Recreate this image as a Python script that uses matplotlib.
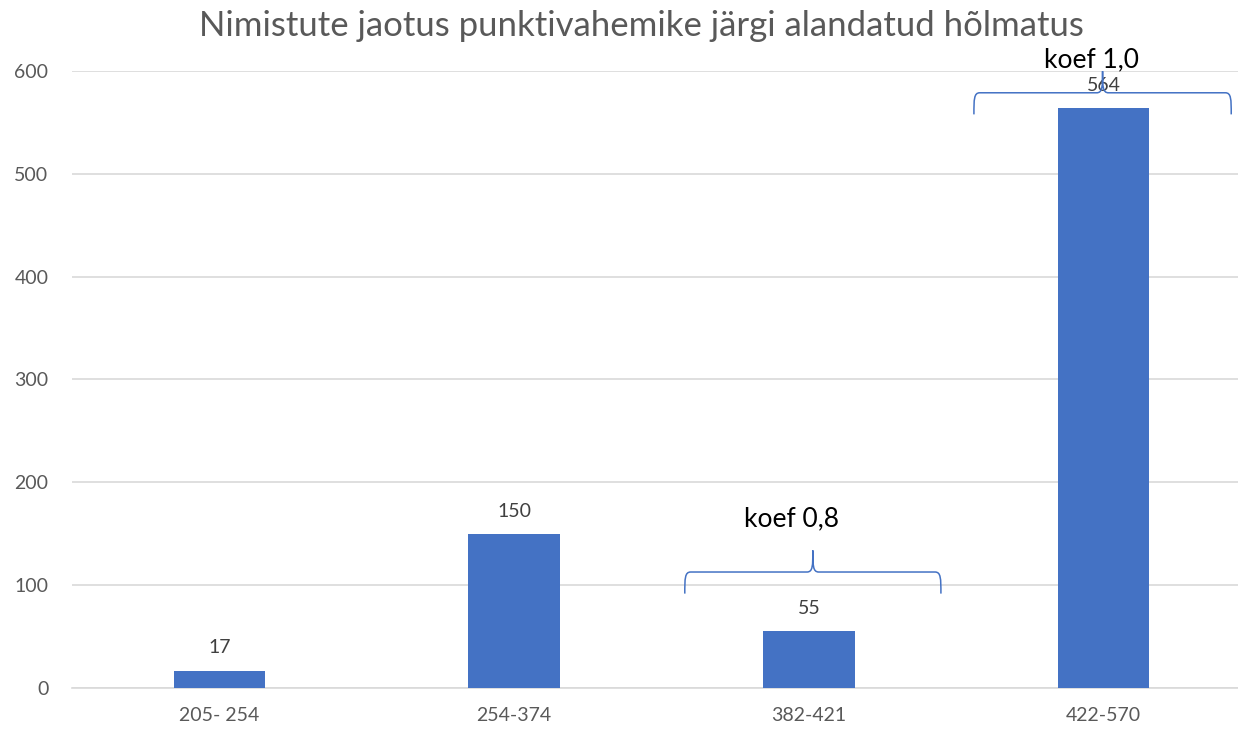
import matplotlib.pyplot as plt
from matplotlib.path import Path
from matplotlib.patches import PathPatch

categories = ["205- 254", "254-374", "382-421", "422-570"]
values = [17, 150, 55, 564]
title = "Nimistute jaotus punktivahemike järgi alandatud hõlmatus"

# brace annotations: (x_left, x_right, y_line, depth, label, label_x, label_y)
braces = [
    (1.579, 2.448, 112.8, 21, "koef 0,8", 1.94, 165),
    (2.560, 3.433, 578.8, 21, "koef 1,0", 2.96, 611),
]

plt.rcParams['font.family'] = ['Lato', 'DejaVu Sans']

fig = plt.figure(figsize=(12.38, 7.31), dpi=100)
ax = fig.add_axes([0.0582, 0.0588, 0.9418, 0.8441])

x = range(len(categories))
bars = ax.bar(x, values, width=0.31, color='#4472C4', zorder=3)

for xi, v in zip(x, values):
    ax.text(xi, v + 22, str(v), ha='center', va='center', fontsize=14, color='#404040', zorder=4)

ax.set_xlim(-0.5, 3.456)
ax.set_ylim(0, 600)
ax.set_yticks(range(0, 601, 100))
ax.set_xticks(list(x))
ax.set_xticklabels(categories)
ax.tick_params(length=0, labelsize=14, colors='#595959')
ax.tick_params(axis='x', pad=14)
ax.tick_params(axis='y', pad=17)
ax.grid(axis='y', color='#D9D9D9', linewidth=1.2, zorder=0)
for s in ['top', 'right', 'left']:
    ax.spines[s].set_visible(False)
ax.spines['bottom'].set_color('#D9D9D9')
ax.spines['bottom'].set_linewidth(1.2)

fig.text(0.518, 0.965, title, ha='center', va='center', fontsize=25, color='#595959')


def brace(x0, x1, y, d):
    xm = (x0 + x1) / 2
    r = 0.02
    verts = [
        (x0, y - d),
        (x0, y - d * 0.3), (x0, y), (x0 + r, y),
        (xm - r, y),
        (xm, y), (xm, y + d * 0.3), (xm, y + d),
        (xm, y + d * 0.3), (xm, y), (xm + r, y),
        (x1 - r, y),
        (x1, y), (x1, y - d * 0.3), (x1, y - d),
    ]
    codes = [Path.MOVETO,
             Path.CURVE4, Path.CURVE4, Path.CURVE4,
             Path.LINETO,
             Path.CURVE4, Path.CURVE4, Path.CURVE4,
             Path.CURVE4, Path.CURVE4, Path.CURVE4,
             Path.LINETO,
             Path.CURVE4, Path.CURVE4, Path.CURVE4]
    return PathPatch(Path(verts, codes), fill=False, edgecolor='#4472C4',
                     linewidth=1.1, clip_on=False, zorder=5)


for x0, x1, yl, d, lab, lx, ly in braces:
    ax.add_patch(brace(x0, x1, yl, d))
    ax.text(lx, ly, lab, ha='center', va='center', fontsize=19, color='black',
            clip_on=False, zorder=6)

plt.savefig('out.png', dpi=100)
